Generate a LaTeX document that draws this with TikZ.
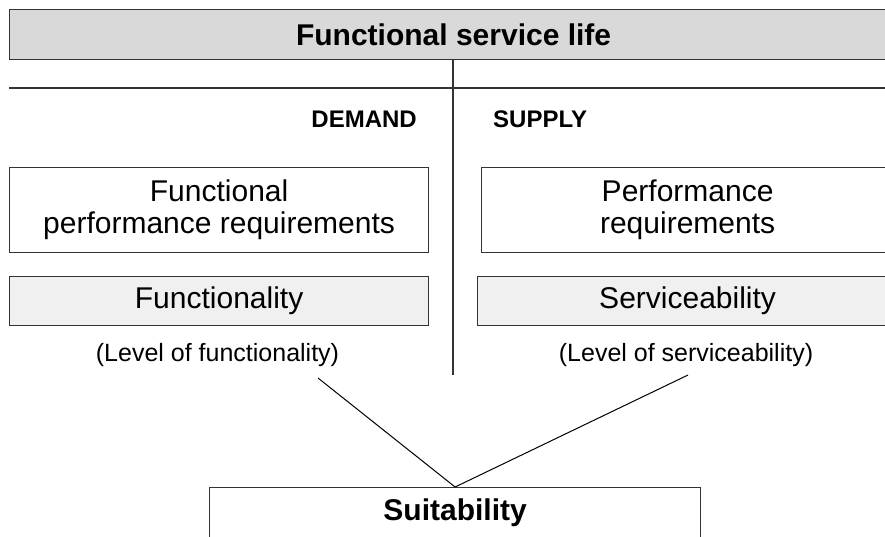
\documentclass[tikz,border=0pt]{standalone}
\usepackage{fontspec}
\setmainfont{Liberation Sans}
\begin{document}
\begin{tikzpicture}[x=1pt,y=-1pt,
  frame/.style={draw=black!80, line width=1.2pt, inner sep=0pt, align=center},
  darkbox/.style={frame, fill=black!15},
  lightbox/.style={frame, fill=black!6},
  whitebox/.style={frame, fill=white},
  bodytext/.style={font=\fontsize{30}{32}\selectfont},
  boldtext/.style={font=\fontsize{30}{32}\selectfont\bfseries},
  headtext/.style={font=\fontsize{24}{26}\selectfont\bfseries, inner sep=0pt},
  leveltext/.style={font=\fontsize{25}{28}\selectfont, inner sep=0pt},
  rule/.style={draw=black!80, line width=1.2pt},
  link/.style={draw=black, line width=1pt}]
\useasboundingbox (0,0) rectangle (885,536);
% top title bar
\node[darkbox, boldtext, minimum width=888pt, minimum height=50pt, anchor=north west] (top) at (9,9) {Functional service life};
% separator lines
\coordinate (hl) at (9,88);
\coordinate (hr) at (890,88);
\draw[rule] (hl) -- (hr);
\coordinate (vtop) at (453,59);
\coordinate (vbot) at (453,375);
\draw[rule] (vtop) -- (vbot);
% headings
\node[headtext, anchor=base east] (demand) at (417,127) {DEMAND};
\node[headtext, anchor=base west] (supply) at (493,127) {SUPPLY};
% demand side
\node[whitebox, bodytext, minimum width=419pt, minimum height=85pt, anchor=north west] (fpr) at (9,167) {Functional\\performance requirements};
\node[lightbox, bodytext, minimum width=419pt, minimum height=49pt, anchor=north west] (func) at (9,276) {Functionality};
\node[leveltext] (lfunc) at (217.5,355) {(Level of functionality)};
% supply side
\node[whitebox, bodytext, minimum width=412pt, minimum height=85pt, anchor=north west] (pr) at (481,167) {Performance\\requirements};
\node[lightbox, bodytext, minimum width=420pt, minimum height=49pt, anchor=north west] (serv) at (477,276) {Serviceability};
\node[leveltext] (lserv) at (686,355) {(Level of serviceability)};
% suitability
\node[whitebox, boldtext, minimum width=491pt, minimum height=50pt, anchor=north west] (suit) at (209,487) {Suitability};
% connectors
\coordinate (lfend) at (318,378);
\coordinate (lsend) at (688,375);
\draw[link] (lfend) -- (suit.north);
\draw[link] (lsend) -- (suit.north);
\end{tikzpicture}
\end{document}
